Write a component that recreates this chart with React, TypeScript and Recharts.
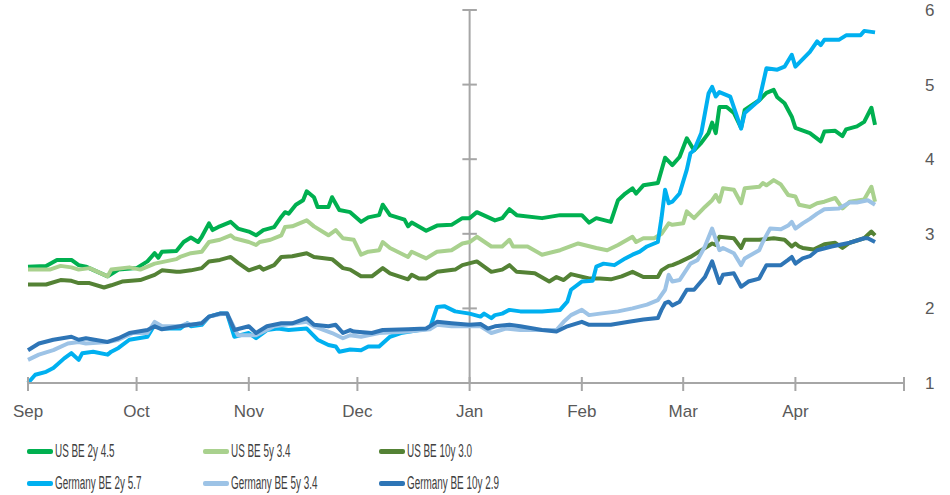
import React from "react";
import { LineChart, Line, XAxis, YAxis, ReferenceLine } from "recharts";

// Day offsets from 1 Sep; values in %
const usBe2y: [number, number][] = [
  [0,2.56],[5,2.57],[8,2.65],[12,2.65],[14,2.58],[16,2.56],[22,2.43],[25,2.52],[30,2.54],[33,2.63],
  [35,2.74],[36,2.68],[37,2.76],[41,2.77],[43,2.89],[45,2.95],[47,2.89],[48,2.96],[50,3.14],[51,3.05],
  [53,3.10],[56,3.16],[58,3.07],[61,3.03],[63,2.98],[65,3.05],[68,3.09],[70,3.23],[71,3.29],[72,3.27],
  [74,3.39],[76,3.45],[77,3.57],[79,3.49],[80,3.36],[83,3.36],[84,3.49],[86,3.32],[89,3.29],[92,3.16],
  [94,3.22],[97,3.25],[98,3.39],[100,3.25],[104,3.19],[105,3.10],[106,3.15],[110,3.04],[113,3.11],[117,3.12],
  [120,3.21],[122,3.21],[124,3.29],[129,3.18],[131,3.21],[133,3.33],[135,3.25],[142,3.21],[147,3.25],[153,3.25],
  [155,3.15],[157,3.21],[161,3.16],[163,3.45],[165,3.54],[167,3.61],[168,3.54],[170,3.65],[174,3.68],[176,4.02],
  [178,3.92],[180,4.03],[182,4.28],[184,4.12],[186,4.22],[188,4.35],[189,4.49],[190,4.35],[191,4.70],[193,4.70],
  [195,4.62],[197,4.42],[198,4.66],[202,4.79],[204,4.89],[206,4.93],[207,4.83],[209,4.75],[211,4.57],[212,4.42],
  [216,4.35],[219,4.24],[220,4.37],[223,4.38],[225,4.31],[226,4.40],[229,4.44],[231,4.50],[233,4.69],[234,4.46],
];

const usBe5y: [number, number][] = [
  [0,2.52],[6,2.52],[9,2.57],[12,2.55],[14,2.52],[17,2.54],[22,2.43],[23,2.52],[28,2.55],[31,2.52],
  [35,2.60],[41,2.66],[42,2.69],[45,2.74],[48,2.76],[50,2.89],[53,2.92],[56,2.98],[57,2.94],[61,2.89],
  [63,2.85],[64,2.89],[67,2.92],[70,2.98],[71,3.09],[73,3.10],[77,3.18],[79,3.10],[83,2.98],[85,3.05],
  [87,2.94],[90,2.92],[92,2.72],[94,2.76],[97,2.78],[98,2.89],[100,2.81],[105,2.69],[106,2.76],[110,2.67],
  [113,2.76],[117,2.78],[120,2.87],[122,2.89],[124,2.96],[128,2.83],[131,2.83],[133,2.92],[134,2.83],[138,2.83],
  [142,2.72],[147,2.78],[152,2.87],[157,2.81],[160,2.78],[163,2.85],[167,2.96],[168,2.89],[170,2.94],[173,2.94],
  [175,3.00],[177,3.14],[178,3.12],[181,3.14],[182,3.30],[184,3.21],[187,3.36],[189,3.45],[190,3.52],[191,3.43],
  [192,3.61],[195,3.59],[197,3.41],[198,3.61],[202,3.63],[203,3.68],[204,3.65],[206,3.72],[208,3.66],[210,3.52],
  [212,3.50],[213,3.39],[216,3.36],[218,3.41],[220,3.43],[223,3.48],[225,3.34],[227,3.43],[231,3.46],[233,3.63],
  [234,3.43],
];

const usBe10y: [number, number][] = [
  [0,2.32],[5,2.32],[9,2.38],[12,2.37],[14,2.34],[17,2.34],[21,2.28],[23,2.31],[26,2.36],[31,2.38],
  [35,2.45],[37,2.51],[41,2.49],[42,2.49],[45,2.51],[48,2.54],[50,2.63],[53,2.65],[56,2.69],[58,2.61],
  [61,2.51],[64,2.56],[65,2.52],[68,2.58],[70,2.69],[73,2.70],[77,2.74],[79,2.69],[84,2.66],[87,2.54],
  [89,2.52],[92,2.43],[95,2.43],[98,2.54],[100,2.47],[105,2.39],[106,2.45],[108,2.40],[110,2.40],[113,2.49],
  [118,2.52],[120,2.58],[124,2.63],[128,2.49],[131,2.52],[133,2.58],[135,2.49],[140,2.47],[144,2.36],[146,2.42],
  [148,2.38],[150,2.46],[155,2.40],[158,2.40],[161,2.39],[164,2.43],[167,2.49],[170,2.42],[174,2.42],[175,2.51],
  [177,2.57],[178,2.58],[180,2.62],[183,2.69],[186,2.78],[189,2.87],[190,2.85],[191,2.96],[195,2.94],[197,2.81],
  [198,2.92],[202,2.92],[206,2.94],[209,2.92],[211,2.83],[212,2.87],[213,2.83],[214,2.81],[217,2.79],[220,2.86],
  [223,2.88],[225,2.81],[227,2.88],[231,2.94],[233,3.03],[234,2.98],
];

const deBe2y: [number, number][] = [
  [0,1.00],[2,1.11],[5,1.15],[7,1.20],[10,1.33],[12,1.40],[14,1.31],[15,1.40],[18,1.42],[22,1.38],
  [23,1.42],[25,1.47],[28,1.58],[33,1.62],[35,1.78],[37,1.73],[42,1.73],[44,1.80],[45,1.76],[48,1.78],
  [50,1.89],[53,1.93],[55,1.93],[57,1.62],[61,1.67],[63,1.60],[66,1.71],[69,1.73],[72,1.71],[77,1.73],
  [80,1.58],[83,1.51],[85,1.49],[86,1.42],[89,1.45],[92,1.44],[94,1.49],[97,1.49],[100,1.62],[103,1.67],
  [108,1.71],[111,1.73],[113,2.02],[115,2.03],[118,1.96],[122,1.93],[125,1.89],[126,1.93],[128,1.87],[129,1.91],
  [131,1.93],[133,1.98],[136,1.96],[142,1.96],[147,1.98],[149,2.09],[150,2.25],[153,2.36],[156,2.37],[157,2.56],
  [159,2.60],[162,2.58],[165,2.67],[167,2.72],[169,2.76],[171,2.83],[174,2.89],[175,3.21],[176,3.59],[177,3.41],
  [178,3.43],[180,3.54],[182,3.86],[183,4.08],[184,4.12],[186,4.35],[188,4.88],[189,4.97],[190,4.84],[191,4.90],
  [194,4.84],[197,4.41],[198,4.62],[202,4.79],[204,5.22],[207,5.20],[209,5.24],[211,5.40],[212,5.24],[216,5.44],
  [218,5.58],[219,5.53],[220,5.60],[224,5.60],[226,5.66],[230,5.66],[231,5.72],[234,5.70],
];

const deBe5y: [number, number][] = [
  [0,1.31],[3,1.38],[7,1.44],[11,1.53],[14,1.55],[16,1.53],[22,1.55],[25,1.58],[29,1.67],[33,1.67],
  [35,1.82],[37,1.76],[42,1.76],[44,1.80],[45,1.78],[48,1.80],[50,1.89],[53,1.92],[55,1.93],[58,1.64],
  [63,1.64],[68,1.76],[77,1.82],[79,1.76],[84,1.67],[87,1.60],[89,1.64],[92,1.62],[97,1.67],[105,1.69],
  [111,1.72],[113,1.78],[117,1.76],[122,1.76],[125,1.76],[128,1.67],[132,1.73],[136,1.71],[142,1.71],[146,1.71],
  [148,1.82],[150,1.91],[153,1.98],[155,1.91],[158,1.93],[163,1.96],[167,2.00],[171,2.05],[174,2.11],[176,2.25],
  [177,2.45],[178,2.36],[180,2.38],[183,2.60],[185,2.65],[187,2.83],[189,3.07],[191,2.78],[192,2.81],[195,2.74],
  [197,2.58],[198,2.67],[202,2.78],[203,2.89],[205,3.07],[208,3.06],[210,3.11],[211,3.16],[212,3.07],[214,3.14],
  [216,3.20],[218,3.27],[220,3.33],[224,3.34],[227,3.42],[229,3.42],[232,3.45],[234,3.39],
];

const deBe10y: [number, number][] = [
  [0,1.44],[3,1.53],[7,1.58],[12,1.62],[14,1.58],[16,1.60],[22,1.55],[25,1.60],[28,1.67],[33,1.71],
  [35,1.76],[37,1.72],[42,1.76],[45,1.78],[48,1.80],[50,1.89],[53,1.93],[55,1.93],[57,1.71],[61,1.76],
  [63,1.67],[66,1.76],[70,1.80],[73,1.80],[77,1.87],[79,1.78],[83,1.76],[85,1.78],[87,1.67],[89,1.71],
  [90,1.69],[95,1.67],[98,1.71],[105,1.72],[110,1.73],[113,1.82],[117,1.80],[122,1.78],[125,1.79],[127,1.73],
  [129,1.76],[133,1.78],[136,1.76],[142,1.71],[146,1.69],[149,1.76],[153,1.82],[155,1.78],[161,1.78],[166,1.82],
  [170,1.85],[174,1.87],[175,1.98],[176,2.07],[177,2.09],[178,2.04],[180,2.09],[182,2.25],[184,2.25],[187,2.42],
  [189,2.63],[191,2.34],[192,2.45],[195,2.47],[197,2.29],[199,2.36],[202,2.40],[204,2.58],[208,2.58],[210,2.65],
  [211,2.69],[212,2.60],[214,2.67],[216,2.70],[218,2.78],[222,2.83],[227,2.88],[231,2.94],[232,2.94],[234,2.89],
];

const monthTicks = [0, 30, 61, 91, 122, 153, 181, 212, 242];
const monthLabels = ["Sep", "Oct", "Nov", "Dec", "Jan", "Feb", "Mar", "Apr", ""];
const yTicks = [1, 2, 3, 4, 5, 6];
const janDay = 122;

const series = [
  { name: "US BE 2y 4.5", data: usBe2y, color: "#00B050" },
  { name: "US BE 5y 3.4", data: usBe5y, color: "#A9D18E" },
  { name: "US BE 10y 3.0", data: usBe10y, color: "#548235" },
  { name: "Germany BE 2y 5.7", data: deBe2y, color: "#00B0F0" },
  { name: "Germany BE 5y 3.4", data: deBe5y, color: "#9DC3E6" },
  { name: "Germany BE 10y 2.9", data: deBe10y, color: "#2E75B6" },
];

const AXIS_COLOR = "#A6A6A6";
const TEXT_COLOR = "#595959";
const FONT = "'Liberation Sans', Arial, sans-serif";

const XTick = (props: any) => {
  const { x, y, payload } = props;
  const idx = monthTicks.indexOf(payload.value);
  const label = idx >= 0 ? monthLabels[idx] : "";
  return (
    <g>
      <line x1={x} x2={x} y1={y - 6} y2={y + 8} stroke={AXIS_COLOR} strokeWidth={2} />
      <text x={x} y={y + 34} textAnchor="middle" fill={TEXT_COLOR} fontSize={17} fontFamily={FONT}>
        {label}
      </text>
    </g>
  );
};

const legendCols = [27, 203, 379];
const legendRows = [451, 483];

export default function App() {
  return (
    <div style={{ position: "absolute", left: 0, top: 0, width: 950, height: 495, background: "#fff" }}>
      <LineChart width={950} height={420} margin={{ top: 10, right: 0, left: 28, bottom: 0 }}>
        <XAxis
          dataKey="day"
          type="number"
          domain={[0, 242]}
          ticks={monthTicks}
          interval={0}
          height={37}
          tickSize={0}
          tickMargin={0}
          tickLine={false}
          axisLine={{ stroke: AXIS_COLOR, strokeWidth: 2 }}
          tick={<XTick />}
          allowDuplicatedCategory={false}
        />
        <YAxis
          orientation="right"
          type="number"
          domain={[1, 6]}
          ticks={yTicks}
          width={46}
          axisLine={false}
          tickLine={false}
          tickSize={6}
          tickMargin={15}
          tick={{ fill: TEXT_COLOR, fontSize: 17, fontFamily: FONT }}
        />
        <ReferenceLine x={janDay} stroke={AXIS_COLOR} strokeWidth={2} />
        {yTicks.map((t) => (
          <ReferenceLine
            key={"jt" + t}
            segment={[{ x: janDay - 2, y: t }, { x: janDay + 2, y: t }]}
            stroke={AXIS_COLOR}
            strokeWidth={2}
          />
        ))}
        {series.map((s) => (
          <Line
            key={s.name}
            data={s.data.map(([day, v]) => ({ day, v }))}
            dataKey="v"
            name={s.name}
            type="linear"
            stroke={s.color}
            strokeWidth={4}
            strokeLinejoin="round"
            dot={false}
            activeDot={false}
            isAnimationActive={false}
          />
        ))}
      </LineChart>
      {series.map((s, i) => {
        const col = legendCols[i % 3];
        const row = legendRows[Math.floor(i / 3)];
        return (
          <div
            key={"lg" + s.name}
            style={{
              position: "absolute",
              left: col,
              top: row - 12,
              height: 24,
              display: "flex",
              alignItems: "center",
              whiteSpace: "nowrap",
            }}
          >
            <span style={{ display: "inline-block", width: 26, height: 5, background: s.color, borderRadius: 2 }} />
            <span
              style={{
                display: "inline-block",
                marginLeft: 2,
                fontFamily: FONT,
                fontSize: 18,
                color: "#404040",
                transform: "scaleX(0.55)",
                transformOrigin: "left center",
              }}
            >
              {s.name}
            </span>
          </div>
        );
      })}
    </div>
  );
}
